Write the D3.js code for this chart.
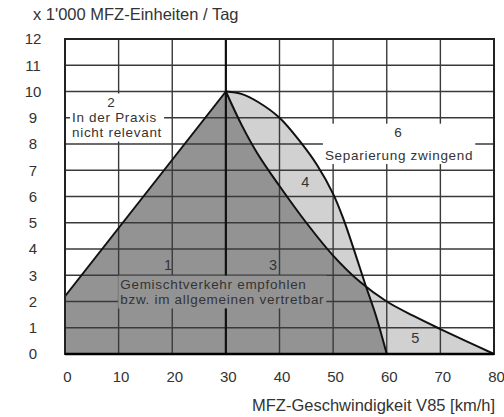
<!DOCTYPE html>
<html><head><meta charset="utf-8">
<script src="https://cdn.jsdelivr.net/npm/d3@7"></script>
<style>
html,body{margin:0;padding:0;background:#fff;}
svg{display:block;}
text{font-family:"Liberation Sans",Arial,sans-serif;fill:#333;}
</style></head>
<body>
<script>
// ---- data ----
const xTicks = [0, 10, 20, 30, 40, 50, 60, 70, 80];
const yTicks = [0, 1, 2, 3, 4, 5, 6, 7, 8, 9, 10, 11, 12];
const yTitle = "x 1'000 MFZ-Einheiten / Tag";
const xTitle = "MFZ-Geschwindigkeit V85 [km/h]";
// left boundary (straight line)
const edgeX = [0, 30];
const edgeY = [2.2, 10];
// curve A: boundary 3 / 4-5 (falls to 80 km/h)
const curveAX = [30, 33, 36, 40, 45, 50, 55, 60, 65, 70, 75, 80];
const curveAY = [10, 8.7, 7.6, 6.4, 5.0, 3.75, 2.75, 2.0, 1.45, 0.95, 0.47, 0];
// curve B: boundary 4 / 6 (falls to 60 km/h)
const curveBX = [30, 33, 36, 40, 44, 47, 50, 52, 54, 56, 58, 60];
const curveBY = [10, 9.9, 9.6, 9.0, 8.05, 7.2, 6.1, 5.1, 3.9, 2.65, 1.45, 0];
// region numbers (data coordinates)
const regionNames = ["1", "2", "3", "4", "5", "6"];
const regionX = [19.2, 8.6, 38.8, 44.8, 65.3, 62.1];
const regionY = [3.39, 9.6, 3.39, 6.55, 0.61, 8.45];
// notes
const note2 = ["In der Praxis", "nicht relevant"];
const note2X = 1.3, note2Y = [9.01, 8.42];
const note1 = ["Gemischtverkehr empfohlen", "bzw. im allgemeinen vertretbar"];
const note1X = 10.3, note1Y = [2.66, 2.06];
const note6 = ["Separierung zwingend"];
const note6X = 62.3, note6Y = [7.56];

// ---- layout ----
const W = 504, H = 417;
const x = d3.scaleLinear().domain([0, 80]).range([65, 494]);
const y = d3.scaleLinear().domain([0, 12]).range([354, 39]);
const DARK = "#939393", LIGHT = "#d1d1d1", GRID = "#3a3a3a";
const FS = 13.5, LS = 0.7, FT = 16.5;

const svg = d3.select("body").append("svg").attr("width", W).attr("height", H);

const pts = (xs, ys) => xs.map((v, i) => [v, ys[i]]);
const A = pts(curveAX, curveAY), B = pts(curveBX, curveBY), E = pts(edgeX, edgeY);
const crv = d3.curveCatmullRom.alpha(0.5);
const area = d3.area().x(d => x(d[0])).y0(y(0)).y1(d => y(d[1])).curve(crv);
const areaLin = d3.area().x(d => x(d[0])).y0(y(0)).y1(d => y(d[1]));
const line = d3.line().x(d => x(d[0])).y(d => y(d[1])).curve(crv);

// clip: under curve B
svg.append("defs").append("clipPath").attr("id", "underB")
  .append("path").attr("d", area(B));

// light fills (4,5)
svg.append("path").attr("d", area(A)).attr("fill", LIGHT);
svg.append("path").attr("d", area(B)).attr("fill", LIGHT);
// dark fills (1,3)
svg.append("path").attr("d", areaLin(E)).attr("fill", DARK);
svg.append("path").attr("d", area(A)).attr("fill", DARK).attr("clip-path", "url(#underB)");

// grid
const g = svg.append("g");
g.selectAll("line.h").data(yTicks).join("line")
  .attr("x1", x(0)).attr("x2", x(80)).attr("y1", d => y(d)).attr("y2", d => y(d))
  .attr("stroke", GRID).attr("stroke-width", 1.4);
g.selectAll("line.v").data(xTicks).join("line")
  .attr("y1", y(0)).attr("y2", y(12)).attr("x1", d => x(d)).attr("x2", d => x(d))
  .attr("stroke", d => d === 30 ? "#111" : GRID).attr("stroke-width", d => d === 30 ? 2.2 : 1.4);

// notes with masks
function note(lines, lx, ly, anchor, bg, extra) {
  const grp = svg.append("g");
  const rect = grp.append("rect").attr("fill", bg);
  if (extra) {
    grp.append("text").attr("x", x(extra.x)).attr("y", y(extra.y))
      .attr("text-anchor", "middle").attr("dominant-baseline", "central")
      .attr("font-size", FS).text(extra.t);
  }
  lines.forEach((t, i) => {
    grp.append("text").attr("x", x(lx)).attr("y", y(ly[i]))
      .attr("text-anchor", anchor).attr("dominant-baseline", "central")
      .attr("font-size", FS).attr("letter-spacing", LS).text(t);
  });
  const bb = grp.node().getBBox();
  rect.attr("x", bb.x - 2).attr("y", bb.y - 1).attr("width", bb.width + 4).attr("height", bb.height + 2);
}
note(note2, note2X, note2Y, "start", "#fff", {t: regionNames[1], x: regionX[1], y: regionY[1]});
note(note1, note1X, note1Y, "start", DARK, null);
note(note6, note6X, note6Y, "middle", "#fff", {t: regionNames[5], x: regionX[5], y: regionY[5]});

// other region numbers
[0, 2, 3, 4].forEach(i => {
  svg.append("text").attr("x", x(regionX[i])).attr("y", y(regionY[i]))
    .attr("text-anchor", "middle").attr("dominant-baseline", "central")
    .attr("font-size", FS + 1).text(regionNames[i]);
});

// boundary lines
svg.append("path").attr("d", d3.line().x(d => x(d[0])).y(d => y(d[1]))(E))
  .attr("fill", "none").attr("stroke", "#111").attr("stroke-width", 2);
svg.append("path").attr("d", line(A)).attr("fill", "none").attr("stroke", "#111").attr("stroke-width", 2);
svg.append("path").attr("d", line(B)).attr("fill", "none").attr("stroke", "#111").attr("stroke-width", 2);

// frame
svg.append("rect").attr("x", x(0)).attr("y", y(12)).attr("width", x(80) - x(0)).attr("height", y(0) - y(12))
  .attr("fill", "none").attr("stroke", "#222").attr("stroke-width", 2);
svg.append("line").attr("x1", x(0)).attr("x2", x(80)).attr("y1", y(0)).attr("y2", y(0))
  .attr("stroke", "#000").attr("stroke-width", 2.5);

// axes (tick labels only)
const yAxis = d3.axisLeft(y).tickValues(yTicks).tickSize(0).tickPadding(0).tickFormat(d3.format("d"));
const ya = svg.append("g").attr("transform", "translate(33,0)").call(yAxis);
ya.select(".domain").remove();
ya.selectAll("text").attr("text-anchor", "middle").attr("font-size", 15).attr("fill", "#444")
  .attr("font-family", "Liberation Sans, Arial, sans-serif");
const xAxis = d3.axisBottom(x).tickValues(xTicks).tickSize(0).tickPadding(0).tickFormat(d3.format("d"));
const xa = svg.append("g").attr("transform", "translate(2,371)").call(xAxis);
xa.select(".domain").remove();
xa.selectAll("text").attr("font-size", 15).attr("fill", "#444")
  .attr("font-family", "Liberation Sans, Arial, sans-serif");

// titles
svg.append("text").attr("x", 33).attr("y", 20).attr("font-size", FT).attr("fill", "#444").text(yTitle);
svg.append("text").attr("x", 495).attr("y", 411).attr("text-anchor", "end")
  .attr("font-size", FT).attr("fill", "#444").text(xTitle);
</script>
</body></html>
